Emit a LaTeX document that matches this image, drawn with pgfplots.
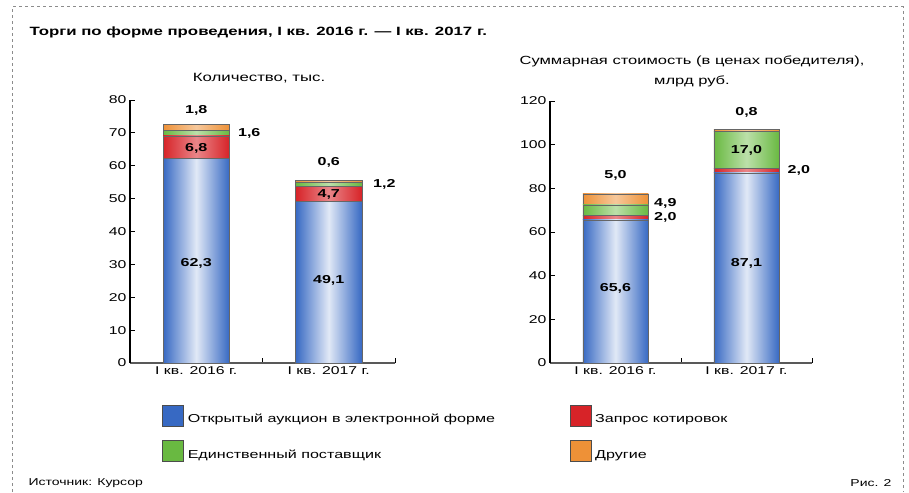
\documentclass[border=0pt]{standalone}
\usepackage{pgfplots}
\pgfplotsset{compat=1.18}
\usepackage{fontspec}
\setmainfont[FakeStretch=1.4]{Liberation Sans}

% цвета по картинке
\definecolor{cblue}{RGB}{55,105,195}
\definecolor{cred}{RGB}{215,35,40}
\definecolor{cgreen}{RGB}{105,185,65}
\definecolor{corange}{RGB}{238,145,55}
\definecolor{cframe}{RGB}{140,140,140}
\colorlet{cbluel}{white!85!cblue}
\colorlet{credl}{white!45!cred}
\colorlet{cgreenl}{white!55!cgreen}
\colorlet{corangel}{white!50!corange}

% светлая полоса посередине столбца
\pgfdeclarehorizontalshading{sblue}{100bp}{color(0bp)=(cblue); color(25bp)=(cblue); color(50bp)=(cbluel); color(75bp)=(cblue); color(100bp)=(cblue)}
\pgfdeclarehorizontalshading{sred}{100bp}{color(0bp)=(cred); color(25bp)=(cred); color(50bp)=(credl); color(75bp)=(cred); color(100bp)=(cred)}
\pgfdeclarehorizontalshading{sgreen}{100bp}{color(0bp)=(cgreen); color(25bp)=(cgreen); color(50bp)=(cgreenl); color(75bp)=(cgreen); color(100bp)=(cgreen)}
\pgfdeclarehorizontalshading{sorange}{100bp}{color(0bp)=(corange); color(25bp)=(corange); color(50bp)=(corangel); color(75bp)=(corange); color(100bp)=(corange)}

\pgfplotsset{
  torgi/.style={
    scale only axis,
    ybar stacked,
    bar width=0.5,
    xmin=-0.5, xmax=1.5, ymin=0,
    axis x line*=bottom, axis y line*=left,
    x axis line style={black!65, line width=1.6pt},
    y axis line style={black, line width=1.4pt},
    tick align=inside,
    major tick length=5pt,
    tick style={black, line width=0.8pt},
    xtick={0.5,1.5}, xticklabels={,},
    extra x ticks={0,1},
    extra x tick labels={I кв. 2016 г., I кв. 2017 г.},
    extra x tick style={tick style={draw=none}},
    ticklabel style={font=\fontsize{11.3}{13}\selectfont},
    /pgf/number format/assume math mode=true,
    every axis plot/.append style={draw=black!60, line width=0.4pt},
  },
  % второй столбец рисуется в наложенной оси, чтобы заливка шла по каждому столбцу отдельно
  overlay/.style={
    scale only axis, hide axis,
    ybar stacked, bar width=0.5,
    xmin=-0.5, xmax=1.5, ymin=0,
    every axis plot/.append style={draw=black!60, line width=0.4pt},
  },
}
\tikzset{val/.style={font=\bfseries\fontsize{11.5}{14}\selectfont}}

\begin{document}
\begin{tikzpicture}
\useasboundingbox (0,0) rectangle (909pt,-492pt);

% рамка
\draw[cframe, dashed, line width=1pt] (12pt,-492pt) -- (12pt,-7pt) -- (903pt,-7pt) -- (903pt,-492pt);

\node[anchor=west, font=\bfseries\fontsize{12}{15}\selectfont] at (26pt,-32pt)
  {Торги по форме проведения, I кв. 2016 г. — I кв. 2017 г.};
\node[font=\fontsize{12}{14}\selectfont] at (259pt,-78pt) {Количество, тыс.};
\node[font=\fontsize{11.8}{20}\selectfont, align=center] at (692pt,-71pt)
  {Суммарная стоимость (в ценах победителя),\\млрд руб.};

% левая диаграмма: количество
\begin{axis}[torgi,
  at={(130pt,-363pt)}, anchor=south west,
  width=265pt, height=263pt,
  ymax=80, ytick distance=10,
  legend columns=2,
  legend cell align=left,
  legend style={at={(0.11,-0.15)}, anchor=north west, draw=none, fill=none,
    font=\fontsize{11.5}{13}\selectfont, row sep=14pt,
    /tikz/every odd column/.append style={column sep=2pt},
    /tikz/every even column/.append style={column sep=4pt}},
  legend image code/.code={\draw[#1, draw=black!70] (0pt,-6.5pt) rectangle (21pt,14.5pt);},
]
\addlegendimage{fill=cblue}
\addlegendentry{\makebox[376pt][l]{Открытый аукцион в электронной форме}}
\addlegendimage{fill=cred}
\addlegendentry{Запрос котировок}
\addlegendimage{fill=cgreen}
\addlegendentry{\makebox[376pt][l]{Единственный поставщик}}
\addlegendimage{fill=corange}
\addlegendentry{Другие}

% I кв. 2016
\addplot[forget plot, shade, shading=sblue] coordinates {(0,62.3)};
\addplot[forget plot, shade, shading=sred] coordinates {(0,6.8)};
\addplot[forget plot, shade, shading=sgreen] coordinates {(0,1.6)};
\addplot[forget plot, shade, shading=sorange] coordinates {(0,1.8)};

% места подписей
\coordinate (L1) at (0,30.4);
\coordinate (L2) at (0,65.3);
\coordinate (L3) at (0.40,69.9);
\coordinate (L4) at (0,76.9);
\coordinate (L5) at (1,25.2);
\coordinate (L6) at (1,51.2);
\coordinate (L7) at (1.42,54.4);
\coordinate (L8) at (1,61.0);
\end{axis}

\begin{axis}[overlay,
  at={(130pt,-363pt)}, anchor=south west,
  width=265pt, height=263pt, ymax=80]
% I кв. 2017
\addplot[shade, shading=sblue] coordinates {(1,49.1)};
\addplot[shade, shading=sred] coordinates {(1,4.7)};
\addplot[shade, shading=sgreen] coordinates {(1,1.2)};
\addplot[shade, shading=sorange] coordinates {(1,0.6)};
\end{axis}

\node[val] at (L1) {62,3};
\node[val] at (L2) {6,8};
\node[val] at (L3) {1,6};
\node[val] at (L4) {1,8};
\node[val] at (L5) {49,1};
\node[val] at (L6) {4,7};
\node[val] at (L7) {1,2};
\node[val] at (L8) {0,6};

% правая диаграмма: стоимость
\begin{axis}[torgi,
  at={(550pt,-363pt)}, anchor=south west,
  width=262pt, height=262pt,
  ymax=120, ytick distance=20,
]
\addplot[shade, shading=sblue] coordinates {(0,65.6)};
\addplot[shade, shading=sred] coordinates {(0,2.0)};
\addplot[shade, shading=sgreen] coordinates {(0,4.9)};
\addplot[shade, shading=sorange] coordinates {(0,5.0)};

\coordinate (R1) at (0,34.4);
\coordinate (R2) at (0,86.0);
\coordinate (R3) at (0.38,73.3);
\coordinate (R4) at (0.38,66.6);
\coordinate (R5) at (1,45.8);
\coordinate (R6) at (1,97.6);
\coordinate (R7) at (1.40,88.0);
\coordinate (R8) at (1,115.0);
\end{axis}

\begin{axis}[overlay,
  at={(550pt,-363pt)}, anchor=south west,
  width=262pt, height=262pt, ymax=120]
\addplot[shade, shading=sblue] coordinates {(1,87.1)};
\addplot[shade, shading=sred] coordinates {(1,2.0)};
\addplot[shade, shading=sgreen] coordinates {(1,17.0)};
\addplot[shade, shading=sorange] coordinates {(1,0.8)};
\end{axis}

\node[val] at (R1) {65,6};
\node[val] at (R2) {5,0};
\node[val] at (R3) {4,9};
\node[val] at (R4) {2,0};
\node[val] at (R5) {87,1};
\node[val] at (R6) {17,0};
\node[val] at (R7) {2,0};
\node[val] at (R8) {0,8};

\node[anchor=west, font=\fontsize{10}{12}\selectfont] at (25pt,-483pt) {Источник: Курсор};
\node[anchor=east, font=\fontsize{10}{12}\selectfont] at (895pt,-483pt) {Рис. 2};
\end{tikzpicture}
\end{document}
